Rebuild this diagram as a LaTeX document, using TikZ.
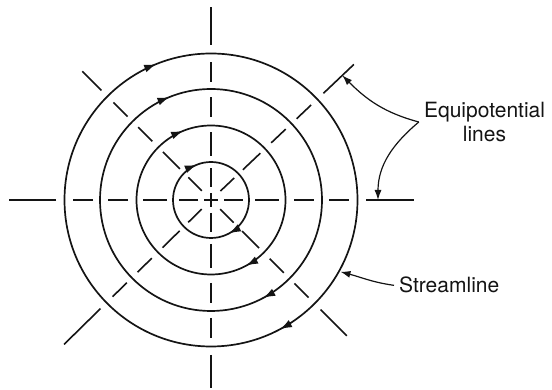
\documentclass[tikz,border=0pt]{standalone}
\usepackage{fontspec}
\setmainfont{TeX Gyre Heros}
\usetikzlibrary{arrows.meta, decorations.markings, calc}
\definecolor{ink}{HTML}{141414}
\newcommand{\LabelF}{\fontsize{21}{24}\selectfont}

\tikzset{
  flowline/.style={draw=ink, line width=1.7pt},
  potline/.style={draw=ink, line width=1.6pt},
  flowarrow/.style={postaction={decorate}, decoration={markings,
      mark=at position 0.172 with {\arrow{Latex[length=12pt,width=8pt]}},
      mark=at position 0.689 with {\arrow{Latex[length=12pt,width=8pt]}}}},
  callout/.style={draw=ink, line width=1.2pt, -{Latex[length=10pt,width=7pt]}},
  labeltext/.style={text=ink, font=\LabelF, inner sep=5pt},
}

\begin{document}
\begin{tikzpicture}[x=1pt, y=1pt]
  \useasboundingbox (0,0) rectangle (552,390);
  \coordinate (O) at (211,190);

  % streamlines, clockwise
  \foreach \r in {38,74.5,111,146.5}
    \draw[flowline, flowarrow] ($(O)+(0:\r)$) arc[start angle=0, end angle=-360, radius=\r];

  % equipotential lines
  \foreach \a/\len in {0/203, 43.5/197, 90/193, 135/182, 180/202, 224.5/206, 270/188, 315/192} {
    \foreach \ra/\rb in {13/32, 44/68, 83/103, 118/138}
      \draw[potline] ($(O)+(\a:\ra)$) -- ($(O)+(\a:\rb)$);
    \draw[potline] ($(O)+(\a:155)$) -- ($(O)+(\a:\len)$);
  }
  \draw[potline] ($(O)+(-7,0)$) -- ($(O)+(7,0)$) ($(O)+(0,-7)$) -- ($(O)+(0,7)$);

  \node[labeltext, align=center] (eqlabel) at (484.5,268) {Equipotential\\lines};
  \node[labeltext, anchor=base west] (stlabel) at (394,97) {Streamline};

  \coordinate (neline) at ($(O)+(43.5:181)$);
  \coordinate (eline) at ($(O)+(0:167)$);
  \coordinate (outer) at ($(O)+(-29:148)$);

  \draw[callout] (eqlabel.west) to[out=165, in=-45] (neline);
  \draw[callout] (eqlabel.west) to[out=220, in=90] (eline);
  \draw[callout] (stlabel.west) to[out=172, in=-15] (outer);
\end{tikzpicture}
\end{document}
